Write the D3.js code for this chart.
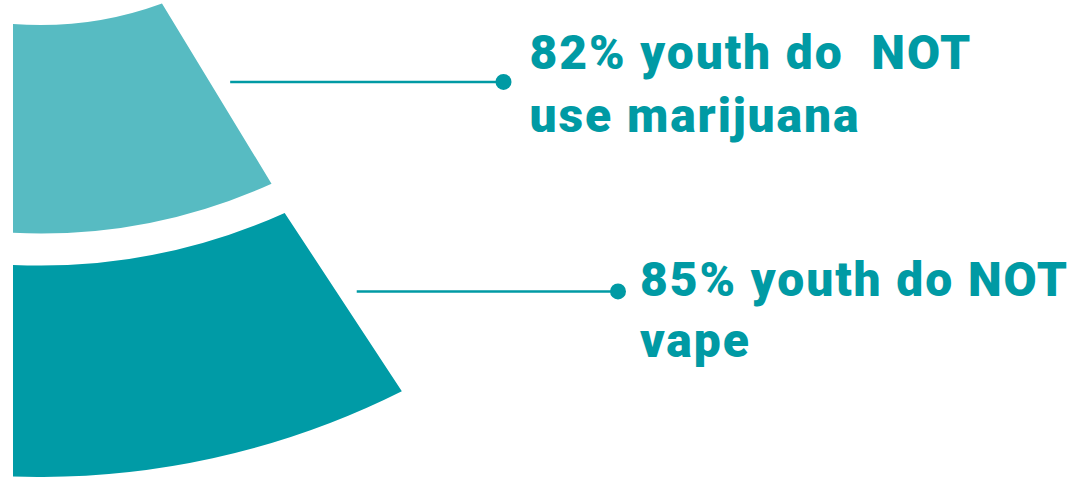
<!DOCTYPE html>
<html>
<head>
<meta charset="utf-8">
<script src="https://cdn.jsdelivr.net/npm/d3@7"></script>
<style>
  html, body { margin: 0; padding: 0; background: #fff; }
  svg { display: block; }
  .label { font-family: "Roboto", "Inter", sans-serif; font-weight: 900; fill: #009aa4; letter-spacing: 1.9px; }
</style>
</head>
<body>
<div id="chart"></div>
<script>
// data
var categories = ["marijuana", "vape"];
var values = [82, 85];
var labelLines = [
    ["82% youth do  NOT", "use marijuana"],
    ["85% youth do NOT", "vape"]
];
var colors = ["#57bbc2", "#009ba6"];

var width = 1081, height = 477;

// fan geometry (centre sits above the picture)
var cx = 40, cy = -330;
var clipX = 13;
var ringInner = [355, 595.5],
    ringOuter = [563.5, 807];
var startDeg = 20.1;   // angle of inner corner of first ring

// value -> angle of the outer corner of the ring
var angle = d3.scaleLinear()
    .domain([82, 85])
    .range([24.26, 26.64]);

var svg = d3.select("#chart")
    .append("svg")
    .attr("width", width)
    .attr("height", height);

function toCanvas(deg) {
    // measured from straight down, positive towards the right
    return Math.PI / 2 - deg * Math.PI / 180;
}
function polar(r, deg) {
    var a = toCanvas(deg);
    return [cx + r * Math.cos(a), cy + r * Math.sin(a)];
}

var rings = values.map(function (v, i) {
    return {
        cat: categories[i],
        value: v,
        lines: labelLines[i],
        r0: ringInner[i],
        r1: ringOuter[i],
        a0: i === 0 ? startDeg : angle(values[i - 1]),
        a1: angle(v)
    };
});

function ringPath(d) {
    var p = d3.path();
    var pin = polar(d.r0, d.a0);
    var leftOut = Math.PI / 2 - Math.asin((clipX - cx) / d.r1);
    var leftIn = Math.PI / 2 - Math.asin((clipX - cx) / d.r0);
    p.moveTo(pin[0], pin[1]);
    p.arc(cx, cy, d.r1, toCanvas(d.a1), leftOut, false);
    p.arc(cx, cy, d.r0, leftIn, toCanvas(d.a0), true);
    p.closePath();
    return p.toString();
}

svg.selectAll(".ring")
    .data(rings)
    .enter()
    .append("path")
    .attr("class", "ring")
    .attr("d", ringPath)
    .attr("fill", function (d, i) { return colors[i]; });

// leader lines + labels
var dotX = [503.5, 618];
var textOff = [26, 22];
var baseShift = [-13, 5];   // first baseline relative to leader
var lineGap = [63, 61];

var ann = svg.selectAll(".ann")
    .data(rings)
    .enter()
    .append("g")
    .attr("class", "ann");

ann.each(function (d, i) {
    var g = d3.select(this);
    var pin = polar(d.r0, d.a0), pout = polar(d.r1, d.a1);
    var y = pin[1] + 78.5;
    var t = (y - pin[1]) / (pout[1] - pin[1]);
    var edgeX = pin[0] + t * (pout[0] - pin[0]);

    g.append("line")
        .attr("x1", edgeX + 20.5)
        .attr("x2", dotX[i])
        .attr("y1", y)
        .attr("y2", y)
        .attr("stroke", "#009aa4")
        .attr("stroke-width", 2.5);

    g.append("circle")
        .attr("cx", dotX[i])
        .attr("cy", y)
        .attr("r", 8)
        .attr("fill", "#009aa4");

    var txt = g.append("text")
        .attr("class", "label")
        .attr("x", dotX[i] + textOff[i])
        .attr("y", y + baseShift[i])
        .attr("font-size", 48)
        .style("white-space", "pre");

    txt.selectAll("tspan")
        .data(d.lines)
        .enter()
        .append("tspan")
        .attr("x", dotX[i] + textOff[i])
        .attr("dy", function (s, j) { return j === 0 ? 0 : lineGap[i]; })
        .text(function (s) { return s; });
});
</script>
</body>
</html>
